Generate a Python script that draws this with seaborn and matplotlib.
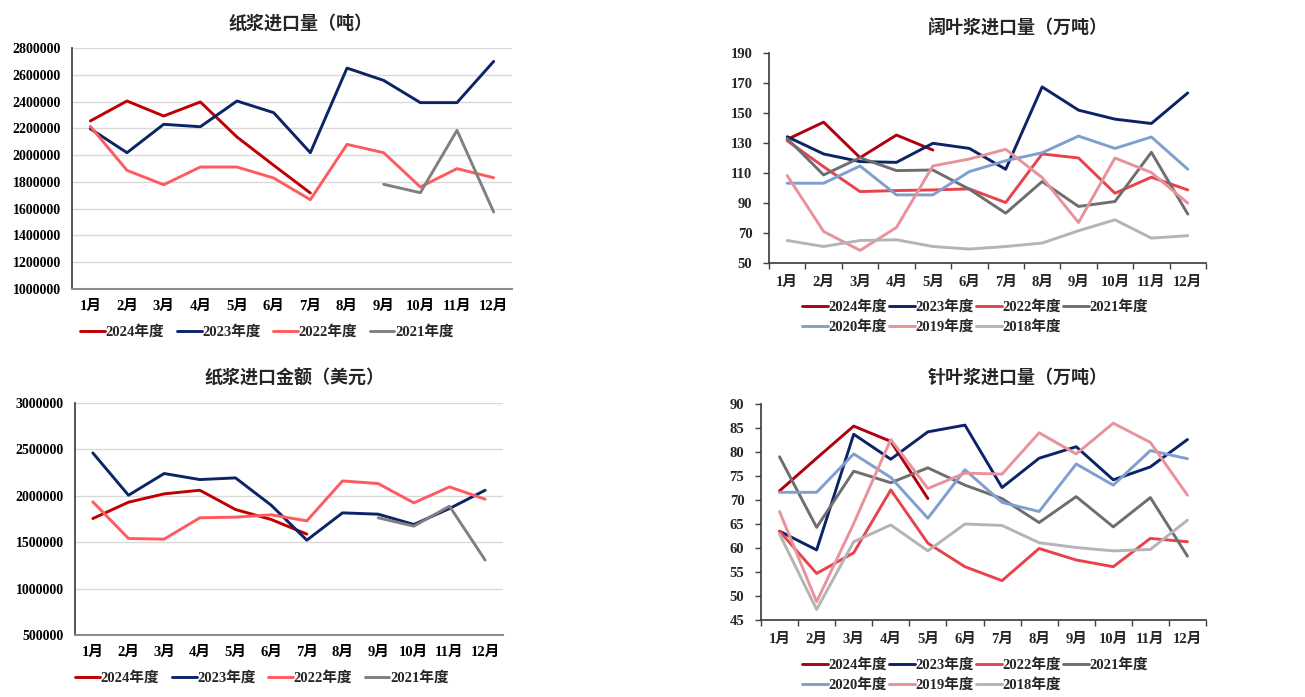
import pandas as pd
import matplotlib
matplotlib.use("Agg")
import matplotlib.pyplot as plt
import seaborn as sns

# ---- data ----
months = ["1月", "2月", "3月", "4月", "5月", "6月", "7月", "8月", "9月", "10月", "11月", "12月"]

# 纸浆进口量（吨）
vol_2024 = [2255000, 2404000, 2292000, 2397000, 2135000, 1924000, 1717000]
vol_2023 = [2197000, 2018000, 2230000, 2212000, 2404000, 2317000, 2018000, 2650000, 2558000, 2392000, 2392000, 2700000]
vol_2022 = [2215000, 1886000, 1779000, 1911000, 1911000, 1829000, 1667000, 2080000, 2018000, 1762000, 1899000, 1831000]
vol_2021 = [None] * 8 + [1782000, 1719000, 2185000, 1575000]

# 纸浆进口金额（美元）
amt_2024 = [1755000, 1931000, 2021000, 2060000, 1852000, 1745000, 1587000]
amt_2023 = [2462000, 2006000, 2240000, 2175000, 2193000, 1899000, 1522000, 1816000, 1802000, 1691000, 1863000, 2060000]
amt_2022 = [1935000, 1540000, 1533000, 1763000, 1770000, 1795000, 1730000, 2160000, 2132000, 1924000, 2096000, 1963000]
amt_2021 = [None] * 8 + [1763000, 1673000, 1888000, 1307000]

# 阔叶浆进口量（万吨）
hw_2024 = [132.4, 143.9, 120.2, 135.3, 125.3]
hw_2023 = [134.2, 122.7, 117.6, 117.1, 129.8, 126.4, 112.5, 167.4, 151.9, 145.9, 143.0, 163.4]
hw_2022 = [131.5, 114.2, 97.6, 98.3, 98.7, 99.4, 90.3, 122.7, 120.0, 96.5, 107.2, 98.7]
hw_2021 = [133.0, 108.7, 120.2, 111.6, 112.0, 99.2, 83.2, 104.3, 87.7, 91.0, 123.8, 82.6]
hw_2020 = [103.2, 103.2, 114.7, 95.4, 95.4, 110.9, 118.2, 123.5, 134.6, 126.4, 134.0, 112.5]
hw_2019 = [108.3, 71.0, 58.4, 73.7, 114.7, 119.3, 125.8, 107.0, 77.0, 120.0, 110.3, 89.9]
hw_2018 = [65.0, 61.0, 65.0, 65.5, 61.0, 59.3, 61.0, 63.3, 71.5, 78.8, 66.6, 68.2]

# 针叶浆进口量（万吨）
sw_2024 = [71.9, 78.7, 85.4, 82.2, 70.3]
sw_2023 = [63.5, 59.6, 83.7, 78.5, 84.2, 85.6, 72.6, 78.7, 81.1, 74.2, 76.9, 82.6]
sw_2022 = [63.5, 54.7, 59.0, 72.1, 61.0, 56.1, 53.2, 59.9, 57.5, 56.1, 62.0, 61.3]
sw_2021 = [79.0, 64.3, 76.0, 73.6, 76.7, 73.1, 70.3, 65.3, 70.7, 64.4, 70.5, 58.3]
sw_2020 = [71.6, 71.6, 79.6, 74.7, 66.2, 76.3, 69.5, 67.6, 77.5, 73.1, 80.3, 78.6]
sw_2019 = [67.6, 48.8, 65.1, 82.6, 72.4, 75.6, 75.4, 84.0, 79.6, 86.0, 82.0, 71.0]
sw_2018 = [62.9, 47.2, 61.3, 64.8, 59.4, 65.0, 64.7, 61.1, 60.1, 59.4, 59.7, 65.8]

years4 = ["2024年度", "2023年度", "2022年度", "2021年度"]
years7 = years4 + ["2020年度", "2019年度", "2018年度"]

left_colors = ["#C00000", "#0C2467", "#FF5A5F", "#808080"]
right_colors = ["#B00010", "#0C2467", "#E8434B", "#6E6E6E", "#7F9FCF", "#E8939B", "#B4B4B4"]

W, H = 1305, 697
FONT = ["Liberation Serif", "Noto Sans CJK SC"]


def frame(series, names):
    rows = []
    for name, vals in zip(names, series):
        for i, v in enumerate(vals):
            if v is not None:
                rows.append({"m": i, "v": v, "year": name})
    return pd.DataFrame(rows)


def px_axes(fig, left, right, top, bottom):
    return fig.add_axes([left / W, (H - bottom) / H, (right - left) / W, (bottom - top) / H])


def draw(ax, df, names, colors):
    for name, c in zip(names, colors):
        sns.lineplot(data=df[df["year"] == name], x="m", y="v", color=c,
                     linewidth=2.1, ax=ax, label=name, legend=False)
    ax.set_xlim(-0.5, 11.5)
    ax.set_xlabel("")
    ax.set_ylabel("")
    ax.set_xticks(range(12))
    ax.set_xticklabels(months, fontfamily=FONT, fontweight="bold", fontsize=10.5)
    for s in ["top", "right"]:
        ax.spines[s].set_visible(False)


sns.set_theme(style="white")
plt.rcParams["font.family"] = FONT
plt.rcParams["font.weight"] = "bold"

fig = plt.figure(figsize=(W / 100, H / 100), dpi=100)


def left_panel(ax, df, yticks, title, tx, ty, lx, ly):
    draw(ax, df, years4, left_colors)
    ax.set_ylim(yticks[0], yticks[-1])
    ax.set_yticks(yticks)
    ax.set_yticklabels([str(t) for t in yticks], fontsize=10, fontweight="bold")
    ax.yaxis.grid(True, color="#D9D9D9", linewidth=1)
    ax.set_axisbelow(True)
    ax.tick_params(axis="both", length=0, pad=8, colors="black")
    ax.spines["left"].set_color("#404040")
    ax.spines["bottom"].set_color("#8C8C8C")
    ax.spines["bottom"].set_linewidth(1.5)
    fig.text(tx / W, 1 - ty / H, title, ha="center", va="center", fontsize=13, fontweight="bold")
    ax.legend(ncol=4, loc="center", bbox_to_anchor=(lx / W, 1 - ly / H),
              bbox_transform=fig.transFigure, frameon=False, handlelength=1.7,
              handletextpad=0.05, columnspacing=0.85, prop={"size": 10.5, "weight": "bold"})


def right_panel(ax, df, yticks, title, tx, ty, lx, ly):
    draw(ax, df, years7, right_colors)
    ax.set_ylim(yticks[0], yticks[-1])
    ax.set_yticks(yticks)
    ax.set_yticklabels([str(t) for t in yticks], fontsize=10.5, fontweight="bold")
    ax.set_xticks([i - 0.5 for i in range(13)], minor=True)
    ax.tick_params(axis="x", which="major", length=0, pad=9)
    ax.tick_params(axis="x", which="minor", length=4, width=1, direction="out", bottom=True, color="#404040")
    ax.tick_params(axis="y", length=4, width=1, direction="out", left=True, pad=8, color="#404040")
    for s in ["left", "bottom"]:
        ax.spines[s].set_color("#404040")
    fig.text(tx / W, 1 - ty / H, title, ha="center", va="center", fontsize=13, fontweight="bold")
    # legend fills column by column; reorder so rows read 2024..2021 / 2020..2018
    handles, labels = ax.get_legend_handles_labels()
    order = [0, 4, 1, 5, 2, 6, 3]
    ax.legend([handles[i] for i in order], [labels[i] for i in order],
              ncol=4, loc="center", bbox_to_anchor=(lx / W, 1 - ly / H),
              bbox_transform=fig.transFigure, frameon=False, handlelength=1.8,
              handletextpad=0.05, columnspacing=0.1, labelspacing=0.45,
              prop={"size": 10.5, "weight": "bold"})


ax1 = px_axes(fig, 72, 512, 48, 289)
left_panel(ax1, frame([vol_2024, vol_2023, vol_2022, vol_2021], years4),
           list(range(1000000, 2800001, 200000)), "纸浆进口量（吨）", 301, 24, 267, 332)

ax3 = px_axes(fig, 75, 503, 403, 635)
left_panel(ax3, frame([amt_2024, amt_2023, amt_2022, amt_2021], years4),
           list(range(500000, 3000001, 500000)), "纸浆进口金额（美元）", 295, 378, 262, 678)

ax2 = px_axes(fig, 769, 1206, 53, 263)
right_panel(ax2, frame([hw_2024, hw_2023, hw_2022, hw_2021, hw_2020, hw_2019, hw_2018], years7),
            list(range(50, 191, 20)), "阔叶浆进口量（万吨）", 1018, 28, 975, 317)

ax4 = px_axes(fig, 761, 1206, 404, 620)
right_panel(ax4, frame([sw_2024, sw_2023, sw_2022, sw_2021, sw_2020, sw_2019, sw_2018], years7),
            list(range(45, 91, 5)), "针叶浆进口量（万吨）", 1018, 378, 975, 675)

fig.savefig("out.png", dpi=100)
